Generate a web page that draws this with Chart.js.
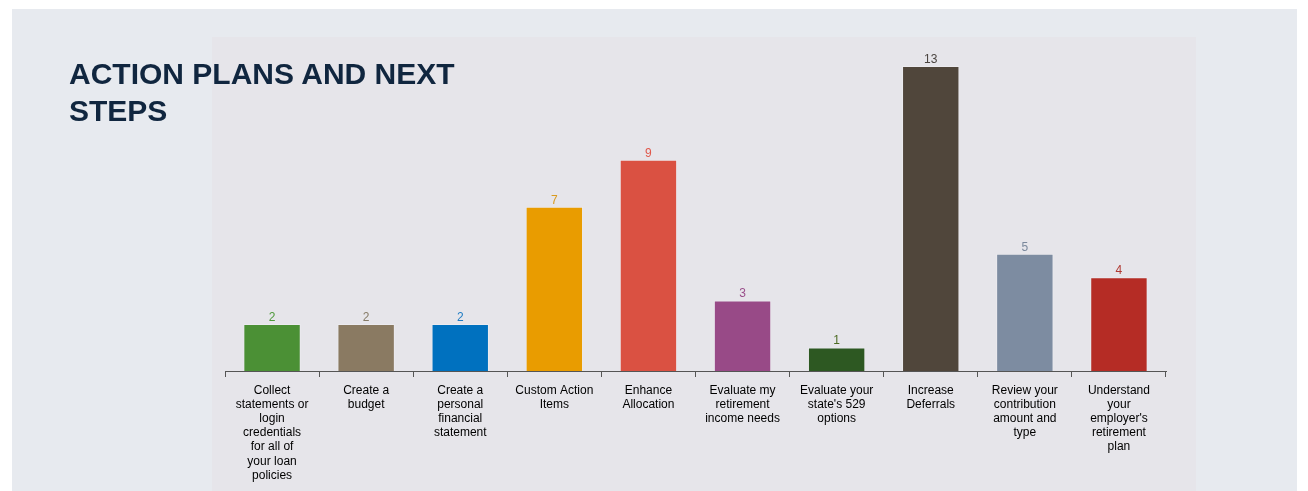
<!DOCTYPE html>
<html>
<head>
<meta charset="utf-8">
<script src="https://cdn.jsdelivr.net/npm/chart.js@4/dist/chart.umd.min.js"></script>
<style>
  html, body { margin: 0; padding: 0; background: #ffffff; }
  body { width: 1308px; height: 491px; position: relative; overflow: hidden; font-family: "Liberation Sans", Arial, sans-serif; }
  #panel { position: absolute; left: 12px; top: 9px; width: 1285px; height: 482px; background: #e7eaef; }
  #plot { position: absolute; left: 212px; top: 37px; width: 984px; height: 454px; background: #e6e5ea; }
  #title { position: absolute; left: 69px; top: 55px; margin: 0; font-size: 30px; line-height: 37px; font-weight: bold; color: #10263f; }
</style>
</head>
<body>
<div id="panel"></div>
<div id="plot"><canvas id="myChart" width="984" height="454"></canvas></div>
<h1 id="title">ACTION PLANS AND NEXT<br>STEPS</h1>
<script>
var categories = [
    ['Collect', 'statements or', 'login', 'credentials', 'for all of', 'your loan', 'policies'],
    ['Create a', 'budget'],
    ['Create a', 'personal', 'financial', 'statement'],
    ['Custom Action', 'Items'],
    ['Enhance', 'Allocation'],
    ['Evaluate my', 'retirement', 'income needs'],
    ['Evaluate your', "state's 529", 'options'],
    ['Increase', 'Deferrals'],
    ['Review your', 'contribution', 'amount and', 'type'],
    ['Understand', 'your', "employer's", 'retirement', 'plan']
];
var counts = [2, 2, 2, 7, 9, 3, 1, 13, 5, 4];
var barColors = ['#4b9035', '#8a7a62', '#0071bf', '#e99c00', '#da5142', '#984a87', '#2d5822', '#50463b', '#7d8ca1', '#b52c25'];
var valueColors = ['#4e9a3a', '#857a66', '#1f7cc4', '#d99a1e', '#e0574a', '#9a4f8b', '#4c6a22', '#4a4440', '#7a889c', '#b03a33'];

// writes each count just above its bar
var valueLabels = {
    id: 'valueLabels',
    afterDatasetsDraw: function(chart) {
        var ctx = chart.ctx;
        var meta = chart.getDatasetMeta(0);
        ctx.save();
        ctx.font = '12px "Liberation Sans", Arial, sans-serif';
        ctx.textAlign = 'center';
        ctx.textBaseline = 'bottom';
        meta.data.forEach(function(bar, i) {
            ctx.fillStyle = valueColors[i];
            ctx.fillText(String(counts[i]), bar.x, bar.y - 0.5);
        });
        ctx.restore();
    }
};

const data = {
    labels: categories,
    datasets: [{
        label: '',
        data: counts,
        backgroundColor: barColors,
        borderColor: 'rgba(255,255,255,0.25)',
        borderWidth: 1,
        barPercentage: 0.61,
        categoryPercentage: 1.0
    }]
};

const config = {
    type: 'bar',
    data: data,
    options: {
        responsive: false,
        animation: false,
        layout: { padding: { left: 13, right: 30, top: 29, bottom: 0 } },
        plugins: {
            legend: { display: false },
            tooltip: { enabled: false }
        },
        scales: {
            x: {
                afterFit: function(scale) { scale.height = 120; },
                border: { display: true, color: '#555555', width: 1 },
                grid: { drawOnChartArea: false, drawTicks: true, tickLength: 6, color: '#555555', offset: true },
                ticks: {
                    autoSkip: false,
                    maxRotation: 0,
                    minRotation: 0,
                    padding: 7,
                    color: '#000000',
                    font: { family: '"Liberation Sans", Arial, sans-serif', size: 12, lineHeight: 1.17 }
                }
            },
            y: {
                display: false,
                min: 0,
                max: 13
            }
        }
    },
    plugins: [valueLabels]
};

var ctx = document.getElementById('myChart').getContext('2d');
var myNewChart = new Chart(ctx, config);
</script>
</body>
</html>
